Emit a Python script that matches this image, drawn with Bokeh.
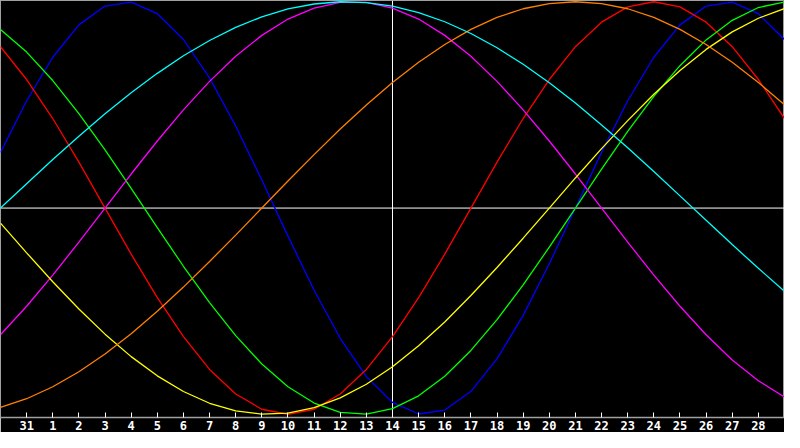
from bokeh.plotting import figure
from bokeh.models import Range1d, FixedTicker, Span
from bokeh.embed import file_html
from bokeh.resources import INLINE

# x positions: day index 0..30 (day 30 of previous month .. day 29)
day_index = list(range(31))
tick_positions = list(range(1, 30))
tick_labels = ["31"] + [str(d) for d in range(1, 29)]
today_index = 15

physical = [0.270, 0.520, 0.731, 0.888, 0.979, 0.998, 0.942, 0.817, 0.631, 0.398, 0.136, -0.136, -0.398,
            -0.631, -0.817, -0.942, -0.998, -0.979, -0.888, -0.731, -0.520, -0.270, 0.0, 0.270, 0.520,
            0.731, 0.888, 0.979, 0.998, 0.942, 0.817]
emotional = [0.782, 0.623, 0.434, 0.223, 0.0, -0.223, -0.434, -0.623, -0.782, -0.901, -0.975, -1.0, -0.975,
             -0.901, -0.782, -0.623, -0.434, -0.223, 0.0, 0.223, 0.434, 0.623, 0.782, 0.901, 0.975, 1.0,
             0.975, 0.901, 0.782, 0.623, 0.434]
intellectual = [0.866, 0.756, 0.618, 0.458, 0.282, 0.095, -0.095, -0.282, -0.458, -0.618, -0.756, -0.866,
                -0.945, -0.99, -0.999, -0.972, -0.91, -0.815, -0.69, -0.541, -0.372, -0.189, 0.0, 0.189,
                0.372, 0.541, 0.69, 0.815, 0.91, 0.972, 0.999]
intuitive = [-0.614, -0.476, -0.325, -0.165, 0.0, 0.165, 0.325, 0.476, 0.614, 0.736, 0.837, 0.916, 0.969,
             0.997, 0.997, 0.969, 0.916, 0.837, 0.736, 0.614, 0.476, 0.325, 0.165, 0.0, -0.165, -0.325,
             -0.476, -0.614, -0.736, -0.837, -0.916]
aesthetic = [-0.073, -0.217, -0.357, -0.489, -0.611, -0.72, -0.813, -0.889, -0.946, -0.983, -0.999, -0.994,
             -0.967, -0.92, -0.854, -0.769, -0.667, -0.552, -0.424, -0.288, -0.146, 0.0, 0.146, 0.288,
             0.424, 0.552, 0.667, 0.769, 0.854, 0.92, 0.967]
awareness = [-0.966, -0.924, -0.866, -0.793, -0.707, -0.609, -0.5, -0.383, -0.259, -0.131, 0.0, 0.131,
             0.259, 0.383, 0.5, 0.609, 0.707, 0.793, 0.866, 0.924, 0.966, 0.991, 1.0, 0.991, 0.966, 0.924,
             0.866, 0.793, 0.707, 0.609, 0.5]
spiritual = [0.0, 0.118, 0.235, 0.348, 0.457, 0.559, 0.653, 0.738, 0.812, 0.876, 0.927, 0.965, 0.989, 1.0,
             0.996, 0.979, 0.947, 0.903, 0.846, 0.777, 0.697, 0.607, 0.509, 0.403, 0.292, 0.177, 0.059,
             -0.059, -0.177, -0.292, -0.403]

series = [
    (physical, "#0000ff"),
    (emotional, "#ff0000"),
    (intellectual, "#00ff00"),
    (intuitive, "#ff00ff"),
    (aesthetic, "#ffff00"),
    (awareness, "#ff8000"),
    (spiritual, "#00ffff"),
]

p = figure(width=784, height=432, x_range=Range1d(0, 30), y_range=Range1d(-1.015, 1.006),
           output_backend="svg", toolbar_location=None, y_axis_location=None,
           background_fill_color="black", border_fill_color="black",
           min_border_left=0, min_border_right=0, min_border_top=0, min_border_bottom=0)
p.grid.visible = False
p.outline_line_color = "#a0a0a0"
p.add_layout(Span(location=0, dimension="width", line_color="white", line_width=1, level="underlay"))
p.add_layout(Span(location=today_index, dimension="height", line_color="white", line_width=1, level="underlay"))
for vals, col in series:
    p.line(day_index, vals, line_color=col, line_width=1.3)

ax = p.xaxis[0]
ax.ticker = FixedTicker(ticks=tick_positions)
ax.major_label_overrides = {t: lab for t, lab in zip(tick_positions, tick_labels)}
ax.axis_line_color = "#a0a0a0"
ax.axis_line_width = 1.5
ax.major_tick_line_color = "white"
ax.major_tick_in = 5
ax.major_tick_out = 0
ax.minor_tick_line_color = None
ax.major_label_text_color = "white"
ax.major_label_text_font = "DejaVu Sans Mono"
ax.major_label_text_font_style = "bold"
ax.major_label_text_font_size = "12px"
ax.major_label_standoff = 3

open("out.html", "w").write(file_html(p, INLINE))
